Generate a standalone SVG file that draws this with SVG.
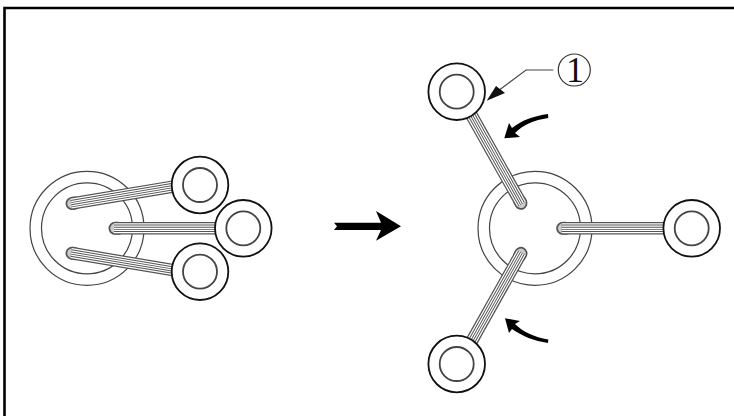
<svg xmlns="http://www.w3.org/2000/svg" width="734" height="416" viewBox="0 0 734 416">
<style>
.hub{fill:#fff;stroke:#444;stroke-width:1.2}
.ro{fill:#fff;stroke:#111;stroke-width:1.8}
.ri{fill:#fff;stroke:#444;stroke-width:1.8}
.cap0{stroke:#555;stroke-width:13;stroke-linecap:round;fill:none}
.cap1{stroke:#ccc;stroke-width:9.5;stroke-linecap:round;fill:none}
.c0{stroke:#555;stroke-width:12.5;fill:none}
.c1{stroke:#fff;stroke-width:10;fill:none}
.c2{stroke:#555;stroke-width:7.5;fill:none}
.c3{stroke:#fff;stroke-width:5.5;fill:none}
.c4{stroke:#555;stroke-width:3;fill:none}
.c5{stroke:#fff;stroke-width:1.2;fill:none}
</style>
<defs>
<g id="ring"><circle class="ro" r="28.3"/><circle class="ri" r="17"/></g>
<g id="cable">
<path class="cap0" d="M0 0H3"/><path class="cap1" d="M0 0H3"/>
<path class="c0" d="M-1 0H130"/><path class="c1" d="M-1 0H130"/><path class="c2" d="M-1 0H130"/><path class="c3" d="M-1 0H130"/><path class="c4" d="M-1 0H130"/><path class="c5" d="M-1 0H130"/>
</g>
</defs>
<path d="M4.5 416V8H734" fill="none" stroke="#000" stroke-width="2.6"/>
<g id="hub-left"><circle class="hub" cx="87" cy="228.3" r="57"/><circle class="hub" cx="87" cy="228.3" r="45.5"/></g>
<g id="hub-right"><circle class="hub" cx="535" cy="228.3" r="57"/><circle class="hub" cx="535" cy="228.3" r="45.5"/></g>
<g id="connectors">
<use href="#cable" transform="translate(72 203.5) rotate(-9.5)"/>
<use href="#cable" transform="translate(115 228.3)"/>
<use href="#cable" transform="translate(72 253.2) rotate(9.5)"/>
<use href="#cable" transform="translate(521 203.3) rotate(-119.3)"/>
<use href="#cable" transform="translate(562.7 228.3)"/>
<use href="#cable" transform="translate(521 253.3) rotate(119.3)"/>
<path d="M553.3 70H526L490 97" fill="none" stroke="#444" stroke-width="1.1"/>
<path d="M486.7 100.7L496 86L505 93Z" fill="#111"/>
<path d="M334 222.7L337 226.3L334 230H381L376 240.7L401 226.3L376 211L381 222.7Z" fill="#000"/>
<path d="M548.3 118C534 120 523 125 515 133L520 137L504.3 138.3L509 123L512 128C522 120 534 116 548 114Z" fill="#000"/>
<path d="M548.3 339.5C534 337 523 332 515 324L520 321L505 318.3L509 333L512 329C522 336 534 341 548 343Z" fill="#000"/>
</g>
<g id="node-l1"><use href="#ring" x="200" y="185"/></g>
<g id="node-l2"><use href="#ring" x="243.3" y="228.3"/></g>
<g id="node-l3"><use href="#ring" x="200" y="271.7"/></g>
<g id="node-r1"><use href="#ring" x="456.7" y="91.7"/></g>
<g id="node-r2"><use href="#ring" x="691.7" y="228.3"/></g>
<g id="node-r3"><use href="#ring" x="456.7" y="364"/></g>
<g id="callout"><circle cx="574.3" cy="70" r="16" fill="#fff" stroke="#333" stroke-width="1.2"/>
<text x="575" y="82" font-family="'Liberation Serif',serif" font-size="36" text-anchor="middle" fill="#111">1</text></g>
</svg>
